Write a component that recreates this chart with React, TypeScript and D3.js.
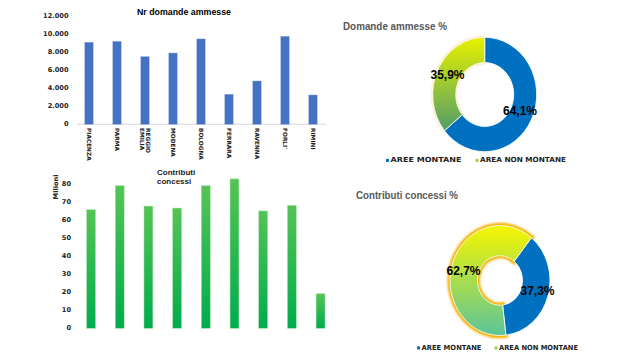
import React from "react";
import * as d3 from "d3";

// dati ----------------------------------------------------
const province = ["PIACENZA", "PARMA", "REGGIO EMILIA", "MODENA", "BOLOGNA", "FERRARA", "RAVENNA", "FORLI'", "RIMINI"];
const domande = [9150, 9250, 7550, 7950, 9520, 3350, 4830, 9810, 3270];
const contributi = [65.9, 79.2, 67.9, 66.8, 79.2, 83.0, 65.2, 68.3, 19.2];
const domandeTicks = [0, 2000, 4000, 6000, 8000, 10000, 12000];
const contributiTicks = [0, 10, 20, 30, 40, 50, 60, 70, 80];

const aree = ["AREE MONTANE", "AREA NON MONTANE"];
const domandePct = [64.1, 35.9];
const contributiPct = [37.3, 62.7];

const FONT = "'Liberation Sans', Arial, sans-serif";
const DV = "'DejaVu Sans', Verdana, sans-serif";
const fmt = (v: number) => (v === 0 ? "0" : d3.format(",")(v).replace(/,/g, "."));
const pct = (v: number) => v.toFixed(1).replace(".", ",") + "%";

function Donut(props: { values: number[]; cx: number; cy: number; r: number; r0: number; sy: number; start: number; gid: string; top: string; bottom: string; glow: boolean; labels: [number, number][] }) {
  const { values, cx, cy, r, r0, sy, start, gid, top, bottom, glow, labels } = props;
  const pie = d3.pie<number>().sort(null).startAngle(start).endAngle(start + 2 * Math.PI)(values);
  const arc = d3.arc<d3.PieArcDatum<number>>().innerRadius(r0).outerRadius(r);
  return (
    <g>
      <defs>
        <linearGradient id={gid} gradientUnits="userSpaceOnUse" x1="0" y1={-r} x2="0" y2={r}>
          <stop offset="0" stopColor={top} />
          <stop offset="1" stopColor={bottom} />
        </linearGradient>
        <filter id={gid + "b"} x="-20%" y="-20%" width="140%" height="140%">
          <feGaussianBlur stdDeviation="1.2" />
        </filter>
      </defs>
      <g transform={`translate(${cx},${cy}) scale(1,${sy})`}>
        {glow && (
          <path d={arc(pie[1]) || ""} fill="none" stroke="#f5b000" strokeWidth={5} filter={`url(#${gid}b)`} />
        )}
        {!glow && (
          <path d={arc(pie[1]) || ""} fill="none" stroke="#f7b030" strokeWidth={1.5} opacity={0.6} filter={`url(#${gid}b)`} />
        )}
        {pie.map((p, i) => (
          <path key={i} d={arc(p) || ""} fill={i === 0 ? "#0070c0" : `url(#${gid})`} stroke="#ffffff" strokeWidth={0.8} />
        ))}
      </g>
      {values.map((v, i) => (
        <text key={i} x={labels[i][0]} y={labels[i][1]} textAnchor="middle" dominantBaseline="middle"
          fontFamily={FONT} fontWeight="bold" fontSize={12} fill="#000">{pct(v)}</text>
      ))}
    </g>
  );
}

function Legend(props: { xs: number[]; lens: number[]; y: number }) {
  const { xs, lens, y } = props;
  const colors = ["#0070c0", "#a8d048"];
  return (
    <g fontFamily={DV} fontWeight="bold" fontSize={7} fill="#222">
      {aree.map((a, i) => (
        <g key={a}>
          <rect x={xs[i]} y={y - 1.6} width={3} height={3} fill={colors[i]} />
          <text x={xs[i] + 4.5} y={y} dominantBaseline="middle" textLength={lens[i]} lengthAdjust="spacingAndGlyphs">{a}</text>
        </g>
      ))}
    </g>
  );
}

export default function App() {
  // grafico domande
  const x1 = d3.scaleBand().domain(province).range([75, 327]).paddingInner(0.7).paddingOuter(0.35);
  const y1 = d3.scaleLinear().domain([0, 12000]).range([124.3, 16.7]);
  // grafico contributi
  const x2 = d3.scaleBand().domain(province).range([76.7, 334.9]).paddingInner(0.69).paddingOuter(0.345);
  const y2 = d3.scaleLinear().domain([0, 80]).range([328.3, 184.3]);

  return (
    <svg width={640} height={359} style={{ position: "absolute", left: 0, top: 0, background: "#fff" }}>
      <defs>
        <linearGradient id="verde" x1="0" y1="0" x2="0" y2="1">
          <stop offset="0" stopColor="#55c455" />
          <stop offset="1" stopColor="#00ac4e" />
        </linearGradient>
      </defs>

      {/* Nr domande ammesse */}
      <text x={184} y={13} textAnchor="middle" dominantBaseline="middle" fontFamily={FONT} fontWeight="bold" fontSize={9} textLength={94} lengthAdjust="spacingAndGlyphs">Nr domande ammesse</text>
      {domandeTicks.map((t) => (
        <text key={t} x={68.5} y={y1(t)} textAnchor="end" dominantBaseline="middle" fontFamily={DV} fontWeight="bold" fontSize={6.6} fill="#222">{fmt(t)}</text>
      ))}
      <line x1={77} x2={326} y1={y1(0)} y2={y1(0)} stroke="#d0d0d0" strokeWidth={0.8} />
      {province.map((p, i) => (
        <rect key={p} x={x1(p)} y={y1(domande[i])} width={x1.bandwidth()} height={y1(0) - y1(domande[i])} fill="#4472c4" stroke="#8eaadb" strokeWidth={0.4} />
      ))}
      {province.map((p) => {
        const cx = (x1(p) || 0) + x1.bandwidth() / 2;
        const lines = p.split(" ");
        return (
          <text key={p} transform={`translate(${cx},128) rotate(90)`} fontFamily={DV} fontWeight="bold" fontSize={5.8} fill="#222">
            {lines.map((l, j) => (
              <tspan key={j} x={0} y={(j - (lines.length - 1) / 2) * 6.5 + 2}>{l}</tspan>
            ))}
          </text>
        );
      })}

      {/* Contributi concessi */}
      <text fontFamily={FONT} fontWeight="bold" fontSize={8} fill="#222">
        <tspan x={157} y={175}>Contributi</tspan>
        <tspan x={157} y={184}>concessi</tspan>
      </text>
      <text transform="translate(56,187) rotate(-90)" textAnchor="middle" dominantBaseline="middle" fontFamily={DV} fontWeight="bold" fontSize={6.6} fill="#222">Milioni</text>
      {contributiTicks.map((t) => (
        <text key={t} x={71} y={y2(t)} textAnchor="end" dominantBaseline="middle" fontFamily={DV} fontWeight="bold" fontSize={6.6} fill="#222">{t}</text>
      ))}
      {province.map((p, i) => (
        <rect key={p} x={x2(p)} y={y2(contributi[i])} width={x2.bandwidth()} height={y2(0) - y2(contributi[i])} fill="url(#verde)" stroke="#a8e4a8" strokeWidth={0.5} />
      ))}

      {/* Domande ammesse % */}
      <text x={343} y={27} dominantBaseline="middle" fontFamily={FONT} fontWeight="bold" fontSize={10.5} fill="#595959" textLength={104} lengthAdjust="spacingAndGlyphs">Domande ammesse %</text>
      <Donut values={domandePct} cx={484.7} cy={94.5} r={52} r0={29} sy={1.1} start={0} gid="g1" top="#e8f200" bottom="#2f8a80" glow={false}
        labels={[[520, 112], [447.5, 75.5]]} />
      <Legend xs={[386, 475.5]} lens={[71, 86]} y={160.5} />

      {/* Contributi concessi % */}
      <text x={356} y={196} dominantBaseline="middle" fontFamily={FONT} fontWeight="bold" fontSize={10.5} fill="#595959" textLength={102} lengthAdjust="spacingAndGlyphs">Contributi concessi %</text>
      <Donut values={contributiPct} cx={500} cy={280.5} r={50} r0={22.5} sy={1.1} start={(39 * Math.PI) / 180} gid="g2" top="#f6f600" bottom="#5cc49a" glow={true}
        labels={[[537.5, 292], [463.5, 272]]} />
      <Legend xs={[417, 494.5]} lens={[60, 79]} y={348} />
    </svg>
  );
}
